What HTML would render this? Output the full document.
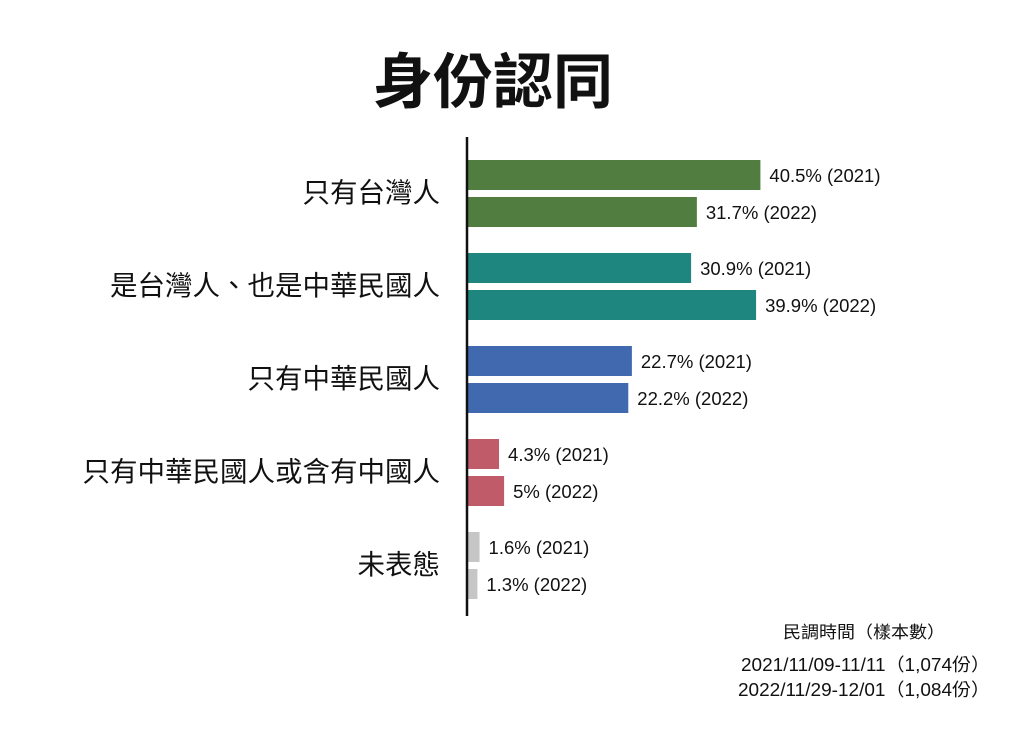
<!DOCTYPE html>
<html><head><meta charset="utf-8"><style>
body{margin:0;background:#fff;}
svg text{font-family:"Liberation Sans","Noto Sans CJK TC",sans-serif;}
</style></head><body>
<svg width="1024" height="724" xmlns="http://www.w3.org/2000/svg">
<rect width="1024" height="724" fill="#fff"/>
<text x="493" y="103" text-anchor="middle" font-size="60" font-weight="bold" fill="#111">身份認同</text>
<g id="bars"></g>
<line x1="467" y1="137" x2="467" y2="616" stroke="#111" stroke-width="2.5"/>
<text x="864" y="638" text-anchor="middle" font-size="17" fill="#111" textLength="162" lengthAdjust="spacingAndGlyphs">民調時間（樣本數）</text>
<text x="990" y="671" text-anchor="end" font-size="18" fill="#111" textLength="249" lengthAdjust="spacingAndGlyphs">2021/11/09-11/11（1,074份）</text>
<text x="990" y="696" text-anchor="end" font-size="18" fill="#111" textLength="252" lengthAdjust="spacingAndGlyphs">2022/11/29-12/01（1,084份）</text>
</svg>
<script>
const categories=["只有台灣人","是台灣人、也是中華民國人","只有中華民國人","只有中華民國人或含有中國人","未表態"];
const values2021=[40.5,30.9,22.7,4.3,1.6];
const values2022=[31.7,39.9,22.2,5,1.3];
const labels2021=["40.5% (2021)","30.9% (2021)","22.7% (2021)","4.3% (2021)","1.6% (2021)"];
const labels2022=["31.7% (2022)","39.9% (2022)","22.2% (2022)","5% (2022)","1.3% (2022)"];
const colors=["#527d41","#1f857f","#4169b0","#c05b69","#c6c6c6"];
const NS="http://www.w3.org/2000/svg";
const x0=468, pxPer=7.22;
const xs=v=>x0+v*pxPer;
const ys=i=>160+i*93;
const g=document.getElementById('bars');
function mk(tag,attrs){const e=document.createElementNS(NS,tag);for(const k in attrs)e.setAttribute(k,attrs[k]);return e;}
categories.forEach((c,i)=>{
  const y=ys(i);
  const t=mk('text',{x:440,y:y+42,'text-anchor':'end','font-size':27.5,fill:'#111'});
  t.textContent=c;
  
  
  g.appendChild(t);
  [[values2021[i],labels2021[i],0],[values2022[i],labels2022[i],37]].forEach(([v,l,dy],j)=>{
    const r=mk('rect',{x:x0,y:y+dy,width:xs(v)-x0,height:30,fill:colors[i]});
    
    
    g.appendChild(r);
    const lt=mk('text',{x:xs(v)+9,y:y+dy+22,'font-size':18.5,fill:'#111'});
    lt.textContent=l;
    
    
    g.appendChild(lt);
  });
});
</script>
</body></html>
